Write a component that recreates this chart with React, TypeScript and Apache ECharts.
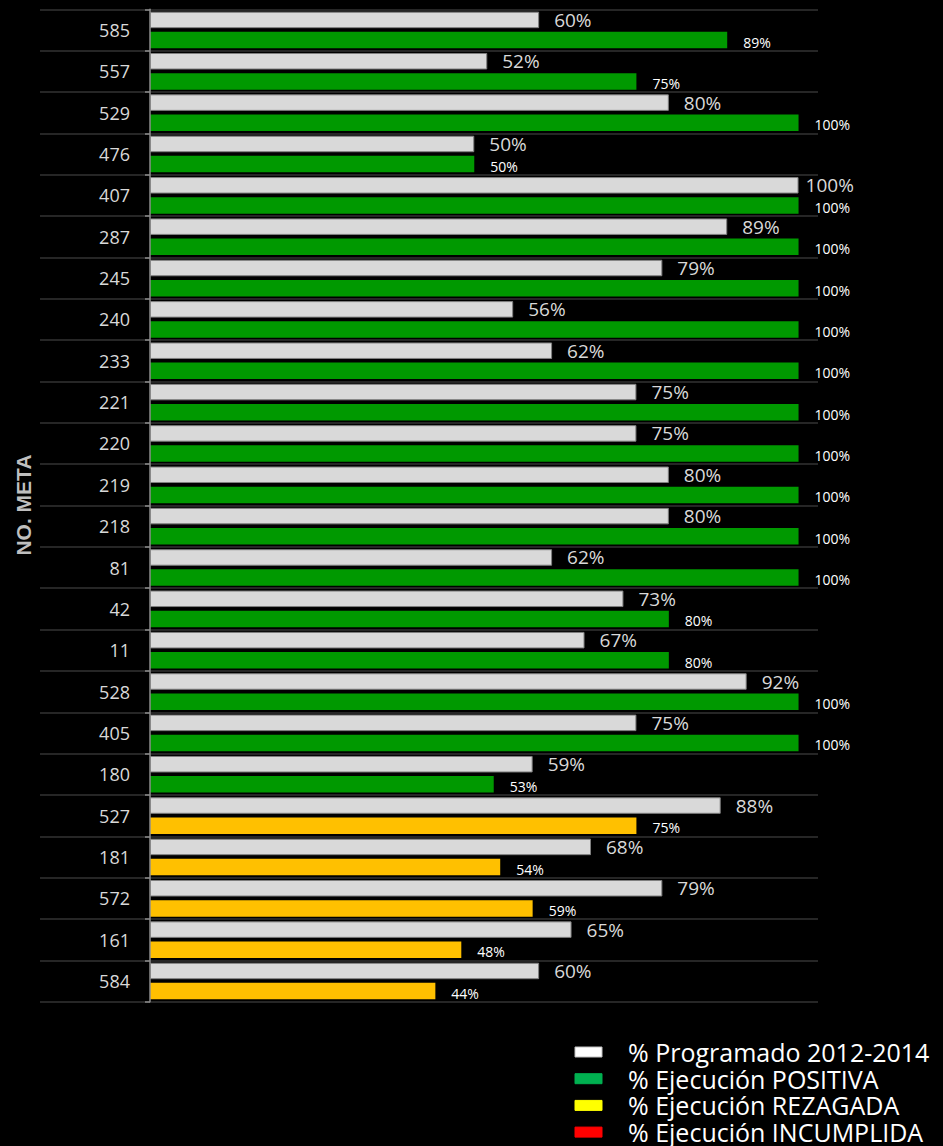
import React, { useEffect, useRef } from "react";
import * as echarts from "echarts";

const categories = ["585","557","529","476","407","287","245","240","233","221","220","219","218","81","42","11","528","405","180","527","181","572","161","584"];
const programado = [60,52,80,50,100,89,79,56,62,75,75,80,80,62,73,67,92,75,59,88,68,79,65,60];
const ejecucion = [89,75,100,50,100,100,100,100,100,100,100,100,100,100,80,80,100,100,53,75,54,59,48,44];
const estado = ["P","P","P","P","P","P","P","P","P","P","P","P","P","P","P","P","P","P","P","R","R","R","R","R"];
const legendItems = ["% Programado 2012-2014","% Ejecución POSITIVA","% Ejecución REZAGADA","% Ejecución INCUMPLIDA"];
const legendColors = ["#ffffff","#00b050","#ffff00","#ff0000"];
const barColors: Record<string, string> = { P: "#009900", R: "#ffc000", I: "#ff0000" };

const FONT = "'Open Sans', 'Noto Sans', sans-serif";

export default function App() {
  const ref = useRef<HTMLDivElement>(null);
  useEffect(() => {
    document.body.style.margin = "0";
    document.body.style.background = "#000";
    const chart = echarts.init(ref.current!, null, { renderer: "svg" });
    const legendGraphics: any[] = [];
    legendItems.forEach((t, i) => {
      const cy = 1052 + i * 26.7;
      legendGraphics.push({
        type: "rect",
        shape: { x: 575, y: cy - 5, width: 27, height: 10 },
        style: { fill: legendColors[i], stroke: i === 0 ? "#bfbfbf" : legendColors[i], lineWidth: 1 },
      });
    });
    legendGraphics.push({
      type: "text",
      x: 628,
      y: 1052 - 26.7 / 2,
      style: {
        text: legendItems.join("\n"),
        fill: "#ffffff",
        font: `25px ${FONT}`,
        lineHeight: 26.7,
        textVerticalAlign: "top",
        textBaseline: "top",
      },
    });
    chart.setOption({
      animation: false,
      backgroundColor: "#000000",
      grid: { left: 150, right: 125, top: 9.3, bottom: 144.3, containLabel: false },
      xAxis: {
        type: "value",
        min: 0,
        max: 103,
        show: false,
      },
      yAxis: [
        {
          type: "category",
          data: categories,
          inverse: true,
          position: "left",
          z: 5,
          axisLine: { show: true, lineStyle: { color: "#8c8c8c", width: 1.5 } },
          axisTick: { show: true, length: 5, interval: 0, lineStyle: { color: "#8c8c8c", width: 1.5 } },
          axisLabel: { interval: 0, color: "#d9d9d9", fontSize: 18, fontFamily: FONT, margin: 20 },
          splitLine: { show: true, interval: 0, lineStyle: { color: "#262626", width: 2 } },
        },
        {
          type: "category",
          data: categories,
          inverse: true,
          position: "left",
          z: 1,
          axisLine: { show: false },
          axisTick: { show: true, length: 110, interval: 0, lineStyle: { color: "#262626", width: 2 } },
          axisLabel: { show: false },
          splitLine: { show: false },
        },
      ],
      series: [
        {
          type: "bar",
          name: legendItems[0],
          data: programado.map((v) => (v >= 100 ? { value: v, label: { distance: 7 } } : v)),
          barWidth: 16.5,
          barGap: "22%",
          itemStyle: { color: "#d9d9d9", borderColor: "#7f7f7f", borderWidth: 1 },
          label: {
            show: true,
            position: "right",
            distance: 15,
            color: "#d9d9d9",
            fontSize: 19,
            fontFamily: FONT,
            formatter: (p: any) => p.value + "%",
          },
        },
        {
          type: "bar",
          name: "% Ejecución",
          data: ejecucion.map((v, i) => ({ value: v, itemStyle: { color: barColors[estado[i]] } })),
          barWidth: 16.5,
          barGap: "22%",
          label: {
            show: true,
            position: "right",
            distance: 16,
            offset: [0, 2],
            color: "#ffffff",
            fontSize: 14,
            fontFamily: FONT,
            formatter: (p: any) => p.value + "%",
          },
        },
      ],
      graphic: [
        {
          type: "text",
          x: 23,
          y: 505,
          rotation: Math.PI / 2,
          style: {
            text: "NO. META",
            fill: "#bfbfbf",
            font: `bold 21px 'Liberation Sans', Arial, sans-serif`,
            textAlign: "center",
            textVerticalAlign: "middle",
            textBaseline: "middle",
          },
        },
        ...legendGraphics,
      ],
    });
    return () => chart.dispose();
  }, []);
  return (
    <div
      ref={ref}
      style={{ position: "absolute", left: 0, top: 0, width: 943, height: 1146, background: "#000" }}
    />
  );
}
